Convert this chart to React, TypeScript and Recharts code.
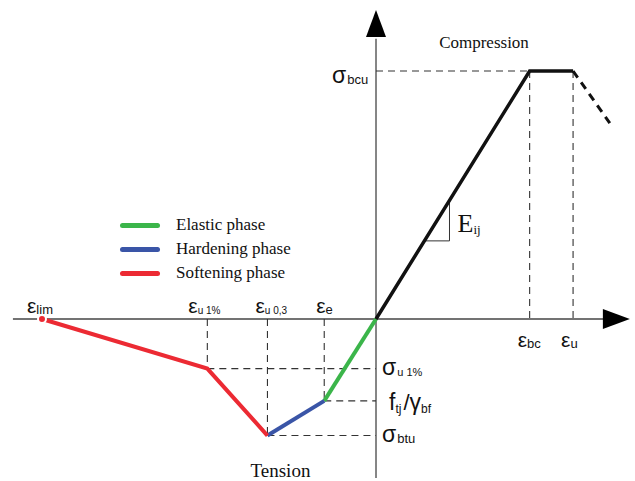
import React from 'react';
import { ComposedChart, Line, XAxis, YAxis, ReferenceLine, ReferenceDot, Legend } from 'recharts';

// tension branch: ε_lim, ε_u1%, ε_u0,3, ε_e and the matching stresses
const tensionStrain = [-10, -5.05, -3.25, -1.55];
const tensionStress = [0, -2.0, -4.7, -3.3];
const tensionSub = ['lim', 'u 1%', 'u 0,3', 'e'];

// compression branch: ε_bc, ε_u at σ_bcu, then the descending part
const compressionStrain = [4.6, 5.9];
const compressionSub = ['bc', 'u'];
const sigmaBcu = 10;
const postPeakStrain = 7.0;
const postPeakStress = 7.9;

// slope triangle under the elastic line
const triangleStrain = 2.2;
const triangleStress = 3.15;

const phaseNames = ['Elastic phase', 'Hardening phase', 'Softening phase'];

const GREEN = '#3bb54a';
const BLUE = '#3a55a7';
const RED = '#ec2a33';
const INK = '#111';

const X_DOMAIN = [-11.257, 7.754];
const Y_DOMAIN = [-6.532, 12.863];

const pt = (x: number, y: number) => ({ x, y });

const softening = [0, 1, 2].map(i => pt(tensionStrain[i], tensionStress[i]));
const hardening = [2, 3].map(i => pt(tensionStrain[i], tensionStress[i]));
const elastic = [pt(tensionStrain[3], tensionStress[3]), pt(0, 0)];
const compression = [pt(0, 0), pt(compressionStrain[0], sigmaBcu), pt(compressionStrain[1], sigmaBcu)];
const descending = [pt(compressionStrain[1], sigmaBcu), pt(postPeakStrain, postPeakStress)];

const SANS = '"Liberation Sans", Arial, sans-serif';
const SERIF = '"Liberation Serif", "Times New Roman", serif';

type Seg = [{ x: number; y: number }, { x: number; y: number }];

// dashed projection lines from each characteristic point to the axes
const guides: Seg[] = [
  [pt(0, sigmaBcu), pt(compressionStrain[0], sigmaBcu)],
  ...compressionStrain.map(e => [pt(e, sigmaBcu), pt(e, 0)] as Seg),
  ...[1, 2, 3].flatMap(i => [
    [pt(tensionStrain[i], 0), pt(tensionStrain[i], tensionStress[i])] as Seg,
    [pt(tensionStrain[i], tensionStress[i]), pt(0, tensionStress[i])] as Seg,
  ]),
];

const triTop = (triangleStrain * sigmaBcu) / compressionStrain[0];
const triLeft = (triangleStress * compressionStrain[0]) / sigmaBcu;

const EpsLabel = (p: any) => (
  <text x={p.cx + p.dx} y={p.cy + p.dy} fontFamily={SANS} fill={INK}>
    <tspan fontSize={21}>ε</tspan>
    <tspan fontSize={p.small ? 10 : 13} dy={1}>{p.sub}</tspan>
  </text>
);

const SigmaLabel = (p: any) => (
  <text x={p.cx + p.dx} y={p.cy + p.dy} fontFamily={SANS} fill={INK}>
    <tspan fontSize={23}>σ</tspan>
    <tspan fontSize={p.small ? 11 : 13} dx={1} dy={1}>{p.sub}</tspan>
  </text>
);

const PhaseLegend = ({ payload }: any) => (
  <div>
    {(payload || [])
      .filter((e: any) => phaseNames.includes(e.value))
      .map((e: any) => (
        <div key={e.value} style={{ display: 'flex', alignItems: 'center', height: 24 }}>
          <span style={{ width: 40, height: 5, borderRadius: 3, background: e.color, marginRight: 16 }} />
          <span style={{ fontFamily: SERIF, fontSize: 17, color: INK }}>{e.value}</span>
        </div>
      ))}
  </div>
);

export default function App() {
  return (
    <div style={{ position: 'absolute', left: 0, top: 0, background: '#fff' }}>
      <ComposedChart width={635} height={481} margin={{ top: 0, right: 0, bottom: 0, left: 0 }}>
        <XAxis type="number" dataKey="x" domain={X_DOMAIN} allowDataOverflow hide />
        <YAxis type="number" dataKey="y" domain={Y_DOMAIN} allowDataOverflow hide />

        {/* axes with arrowheads */}
        <ReferenceLine segment={[pt(-10.87, 0), pt(6.85, 0)]} stroke="#444" strokeWidth={1.3} />
        <ReferenceLine segment={[pt(0, -6.41), pt(0, 11.3)]} stroke="#444" strokeWidth={1.3} />
        <ReferenceDot x={7.6} y={0} r={0} shape={(p: any) => (
          <polygon points={`${p.cx},${p.cy} ${p.cx - 27},${p.cy - 10} ${p.cx - 27},${p.cy + 10}`} fill="#000" />
        )} />
        <ReferenceDot x={0} y={12.46} r={0} shape={(p: any) => (
          <polygon points={`${p.cx},${p.cy} ${p.cx - 10},${p.cy + 27} ${p.cx + 10},${p.cy + 27}`} fill="#000" />
        )} />

        {guides.map((s, i) => (
          <ReferenceLine key={`g${i}`} segment={s} stroke="#333" strokeWidth={1.1} strokeDasharray="7 5" />
        ))}

        {/* slope triangle */}
        <ReferenceLine segment={[pt(triLeft, triangleStress), pt(triangleStrain, triangleStress)]} stroke="#333" strokeWidth={1} />
        <ReferenceLine segment={[pt(triangleStrain, triangleStress), pt(triangleStrain, triTop)]} stroke="#333" strokeWidth={1} />

        <Line data={elastic} dataKey="y" name={phaseNames[0]} stroke={GREEN} strokeWidth={4} dot={false} isAnimationActive={false} />
        <Line data={hardening} dataKey="y" name={phaseNames[1]} stroke={BLUE} strokeWidth={4} dot={false} isAnimationActive={false} />
        <Line data={softening} dataKey="y" name={phaseNames[2]} stroke={RED} strokeWidth={4} dot={false} isAnimationActive={false} />
        <Line data={compression} dataKey="y" name="compression" legendType="none" stroke={INK} strokeWidth={3.5} dot={false} isAnimationActive={false} />
        <Line data={descending} dataKey="y" name="post-peak" legendType="none" stroke={INK} strokeWidth={3} strokeDasharray="8 6" dot={false} isAnimationActive={false} />

        {/* strain labels */}
        {tensionStrain.map((e, i) => (
          <ReferenceDot key={`t${i}`} x={e} y={0} r={0} shape={(p: any) => (
            <EpsLabel {...p} dx={[-15, -19, -12, -8][i]} dy={-6} sub={tensionSub[i]} small={i === 1 || i === 2} />
          )} />
        ))}
        {compressionStrain.map((e, i) => (
          <ReferenceDot key={`c${i}`} x={e} y={0} r={0} shape={(p: any) => (
            <EpsLabel {...p} dx={-12} dy={28} sub={compressionSub[i]} />
          )} />
        ))}

        {/* stress labels */}
        <ReferenceDot x={0} y={sigmaBcu} r={0} shape={(p: any) => <SigmaLabel {...p} dx={-44} dy={12} sub="bcu" />} />
        <ReferenceDot x={0} y={tensionStress[1]} r={0} shape={(p: any) => <SigmaLabel {...p} dx={6} dy={6} sub="u 1%" small />} />
        <ReferenceDot x={0} y={tensionStress[2]} r={0} shape={(p: any) => <SigmaLabel {...p} dx={6} dy={6} sub="btu" />} />
        <ReferenceDot x={0} y={tensionStress[3]} r={0} shape={(p: any) => (
          <text x={p.cx + 13} y={p.cy + 9} fontFamily={SANS} fill={INK}>
            <tspan fontSize={23}>f</tspan>
            <tspan fontSize={12} dy={3}>tj</tspan>
            <tspan fontSize={22} dx={2} dy={-3}>/</tspan>
            <tspan fontSize={23}>γ</tspan>
            <tspan fontSize={12} dy={3}>bf</tspan>
          </text>
        )} />

        <ReferenceDot x={triangleStrain} y={triTop} r={0} shape={(p: any) => (
          <text x={p.cx + 8} y={p.cy + 32} fontFamily={SERIF} fill={INK}>
            <tspan fontSize={26}>E</tspan>
            <tspan fontSize={13} dy={2}>ij</tspan>
          </text>
        )} />

        <ReferenceDot x={0} y={sigmaBcu} r={0} shape={(p: any) => (
          <text x={p.cx + 108} y={p.cy - 23} textAnchor="middle" fontFamily={SERIF} fontSize={17} fill={INK}>Compression</text>
        )} />
        <ReferenceDot x={tensionStrain[2]} y={tensionStress[2]} r={0} shape={(p: any) => (
          <text x={p.cx + 13} y={p.cy + 41} textAnchor="middle" fontFamily={SERIF} fontSize={19} fill={INK}>Tension</text>
        )} />

        <Legend
          layout="vertical"
          align="center"
          verticalAlign="middle"
          wrapperStyle={{ left: 120, top: 213, width: 'auto' }}
          content={PhaseLegend}
        />
      </ComposedChart>
    </div>
  );
}
